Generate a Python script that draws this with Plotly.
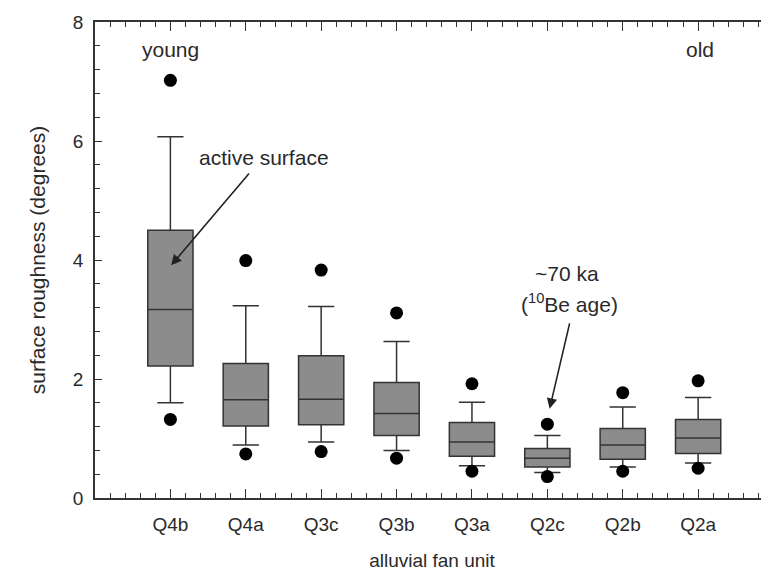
import plotly.graph_objects as go

units = ["Q4b", "Q4a", "Q3c", "Q3b", "Q3a", "Q2c", "Q2b", "Q2a"]
q1 = [2.22, 1.21, 1.23, 1.05, 0.70, 0.52, 0.65, 0.75]
median = [3.17, 1.65, 1.66, 1.42, 0.94, 0.67, 0.89, 1.01]
q3 = [4.50, 2.26, 2.39, 1.94, 1.27, 0.83, 1.17, 1.32]
lower_whisker = [1.60, 0.89, 0.94, 0.80, 0.54, 0.43, 0.52, 0.59]
upper_whisker = [6.07, 3.23, 3.22, 2.63, 1.61, 1.05, 1.53, 1.69]
outlier_high = [7.02, 3.99, 3.83, 3.11, 1.92, 1.24, 1.77, 1.97]
outlier_low = [1.32, 0.74, 0.78, 0.67, 0.45, 0.36, 0.45, 0.50]

pos = list(range(len(units)))
FONT = "Liberation Sans, Arial, sans-serif"
TXT = "#2a2a2a"

fig = go.Figure()
fig.add_trace(go.Box(
    x=pos, q1=q1, median=median, q3=q3,
    lowerfence=lower_whisker, upperfence=upper_whisker,
    boxpoints=False, width=0.6, whiskerwidth=0.58,
    fillcolor="#8c8c8c", line=dict(color="#333333", width=1.5),
    showlegend=False, hoverinfo="skip",
))
fig.add_trace(go.Scatter(
    x=pos + pos, y=outlier_high + outlier_low, mode="markers",
    marker=dict(color="black", size=13), showlegend=False,
))

axis_common = dict(
    showline=True, linecolor="#333333", linewidth=1.5, mirror="ticks",
    ticks="inside", tickcolor="#333333", showgrid=False, zeroline=False,
    tickfont=dict(family=FONT, size=19, color=TXT),
)
fig.update_xaxes(
    range=[-1, 7.94], tickvals=pos, ticktext=units, ticklen=9, tickwidth=1.2,
    ticklabelstandoff=8,
    minor=dict(tick0=-1, dtick=0.2, ticks="inside", ticklen=5, tickcolor="#333333", tickwidth=1),
    title=dict(text="alluvial fan unit", font=dict(family=FONT, size=19, color=TXT), standoff=20),
    **axis_common,
)
fig.update_yaxes(
    range=[0, 8], tickvals=[0, 2, 4, 6, 8], ticklen=7, tickwidth=1.2,
    ticklabelstandoff=6,
    minor=dict(tick0=0, dtick=0.4, ticks="inside", ticklen=5, tickcolor="#333333", tickwidth=1),
    title=dict(text="surface roughness (degrees)", font=dict(family=FONT, size=21, color=TXT), standoff=22),
    **axis_common,
)

ann_font = dict(family=FONT, size=21, color=TXT)
fig.add_annotation(x=0, y=7.53, text="young", showarrow=False, font=ann_font, xref="x", yref="y")
fig.add_annotation(x=7.03, y=7.53, text="old", showarrow=False, font=ann_font, xref="x", yref="y")
fig.add_annotation(x=1.24, y=5.73, text="active surface", showarrow=False, font=ann_font, xref="x", yref="y")
fig.add_annotation(x=5.26, y=3.78, text="~70 ka", showarrow=False, font=ann_font, xref="x", yref="y")
fig.add_annotation(x=5.30, y=3.28, text="(<sup>10</sup>Be age)", showarrow=False, font=ann_font, xref="x", yref="y")
fig.add_annotation(x=0.01, y=3.91, ax=1.06, ay=5.48, axref="x", ayref="y", xref="x", yref="y",
                   text="", showarrow=True, arrowhead=2, arrowsize=1.3, arrowwidth=1.6, arrowcolor="#222222")
fig.add_annotation(x=5.03, y=1.50, ax=5.30, ay=2.96, axref="x", ayref="y", xref="x", yref="y",
                   text="", showarrow=True, arrowhead=2, arrowsize=1.3, arrowwidth=1.6, arrowcolor="#222222")

fig.update_layout(
    width=761, height=568,
    margin=dict(l=87, r=0, t=14, b=78, autoexpand=False),
    paper_bgcolor="white", plot_bgcolor="white",
    font=dict(family=FONT),
)
fig.write_html("out.html")
